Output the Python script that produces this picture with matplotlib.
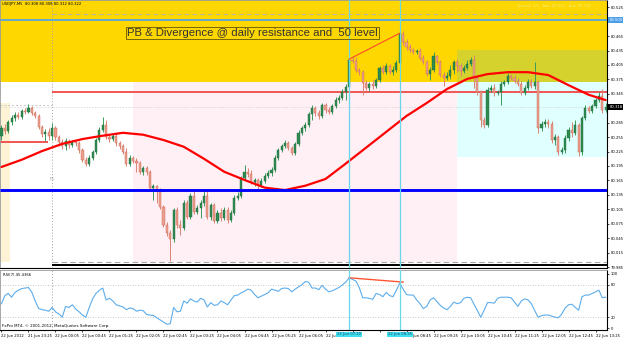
import numpy as np
import matplotlib
matplotlib.use("Agg")
import matplotlib.pyplot as plt
from matplotlib.patches import Rectangle

# ---------------- data (USDJPY M5) ----------------
opens = [80.258, 80.274, 80.268, 80.287, 80.295, 80.301, 80.297, 80.309, 80.307, 80.316,
         80.305, 80.299, 80.276, 80.262, 80.266, 80.258, 80.274, 80.255, 80.245, 80.237,
         80.247, 80.239, 80.245, 80.243, 80.228, 80.208, 80.199, 80.212, 80.224, 80.249,
         80.270, 80.280, 80.255, 80.251, 80.258, 80.243, 80.237, 80.224, 80.199, 80.212,
         80.206, 80.201, 80.183, 80.191, 80.183, 80.150, 80.154, 80.145, 80.110, 80.073,
         80.056, 80.044, 80.104, 80.073, 80.066, 80.118, 80.089, 80.133, 80.100, 80.108,
         80.118, 80.133, 80.089, 80.114, 80.081, 80.098, 80.087, 80.104, 80.083, 80.098,
         80.129, 80.133, 80.170, 80.183, 80.179, 80.162, 80.166, 80.156, 80.164, 80.174,
         80.181, 80.187, 80.212, 80.228, 80.237, 80.243, 80.233, 80.222, 80.241, 80.264,
         80.274, 80.280, 80.303, 80.316, 80.305, 80.299, 80.322, 80.312, 80.307, 80.320,
         80.332, 80.336, 80.349, 80.359, 80.415, 80.413, 80.395, 80.390, 80.368, 80.357,
         80.366, 80.361, 80.374, 80.399, 80.390, 80.403, 80.390, 80.395, 80.409, 80.469,
         80.453, 80.442, 80.436, 80.432, 80.434, 80.420, 80.411, 80.386, 80.395, 80.424,
         80.411, 80.384, 80.378, 80.382, 80.395, 80.411, 80.403, 80.393, 80.399, 80.407,
         80.415, 80.378, 80.349, 80.291, 80.280, 80.353, 80.357, 80.347, 80.349, 80.366,
         80.370, 80.382, 80.378, 80.372, 80.366, 80.347, 80.357, 80.370, 80.361, 80.370,
         80.274, 80.282, 80.287, 80.282, 80.249, 80.255, 80.224, 80.228, 80.253, 80.270,
         80.264, 80.280, 80.224, 80.295, 80.316, 80.309, 80.320, 80.332, 80.341, 80.312]
highs = [80.280, 80.282, 80.291, 80.301, 80.307, 80.307, 80.314, 80.316, 80.324, 80.320,
         80.309, 80.303, 80.280, 80.272, 80.274, 80.285, 80.278, 80.260, 80.251, 80.253,
         80.251, 80.249, 80.249, 80.247, 80.233, 80.214, 80.218, 80.228, 80.253, 80.276,
         80.297, 80.291, 80.262, 80.264, 80.262, 80.247, 80.241, 80.233, 80.218, 80.216,
         80.212, 80.206, 80.195, 80.195, 80.187, 80.158, 80.156, 80.150, 80.114, 80.079,
         80.062, 80.108, 80.110, 80.083, 80.125, 80.125, 80.139, 80.145, 80.114, 80.125,
         80.145, 80.145, 80.118, 80.118, 80.104, 80.108, 80.110, 80.110, 80.104, 80.135,
         80.141, 80.174, 80.197, 80.191, 80.187, 80.170, 80.170, 80.170, 80.181, 80.187,
         80.193, 80.218, 80.233, 80.241, 80.249, 80.247, 80.237, 80.245, 80.270, 80.278,
         80.287, 80.307, 80.322, 80.320, 80.312, 80.326, 80.326, 80.318, 80.324, 80.339,
         80.343, 80.355, 80.366, 80.420, 80.422, 80.422, 80.399, 80.395, 80.374, 80.370,
         80.374, 80.378, 80.403, 80.405, 80.409, 80.407, 80.403, 80.415, 80.513, 80.476,
         80.459, 80.449, 80.440, 80.438, 80.440, 80.426, 80.415, 80.401, 80.432, 80.426,
         80.415, 80.390, 80.390, 80.405, 80.415, 80.417, 80.409, 80.405, 80.415, 80.422,
         80.426, 80.382, 80.353, 80.297, 80.359, 80.363, 80.366, 80.353, 80.372, 80.374,
         80.388, 80.386, 80.384, 80.378, 80.372, 80.363, 80.376, 80.376, 80.411, 80.374,
         80.289, 80.293, 80.293, 80.289, 80.262, 80.260, 80.235, 80.260, 80.276, 80.287,
         80.291, 80.285, 80.299, 80.322, 80.320, 80.324, 80.336, 80.349, 80.355, 80.326]
lows = [80.249, 80.262, 80.264, 80.280, 80.289, 80.293, 80.293, 80.303, 80.305, 80.301,
        80.295, 80.272, 80.255, 80.247, 80.249, 80.249, 80.249, 80.237, 80.231, 80.228,
        80.233, 80.235, 80.237, 80.222, 80.204, 80.195, 80.195, 80.208, 80.220, 80.245,
        80.266, 80.251, 80.245, 80.247, 80.237, 80.231, 80.220, 80.195, 80.195, 80.201,
        80.183, 80.179, 80.177, 80.177, 80.145, 80.125, 80.118, 80.106, 80.069, 80.050,
        79.998, 80.037, 80.066, 80.052, 80.062, 80.085, 80.085, 80.096, 80.096, 80.087,
        80.112, 80.085, 80.083, 80.077, 80.077, 80.081, 80.083, 80.077, 80.079, 80.093,
        80.125, 80.129, 80.166, 80.172, 80.158, 80.154, 80.145, 80.152, 80.160, 80.170,
        80.174, 80.183, 80.208, 80.224, 80.233, 80.228, 80.218, 80.218, 80.237, 80.260,
        80.268, 80.276, 80.291, 80.299, 80.293, 80.295, 80.305, 80.303, 80.303, 80.316,
        80.326, 80.332, 80.332, 80.355, 80.409, 80.390, 80.384, 80.343, 80.353, 80.351,
        80.355, 80.357, 80.370, 80.386, 80.386, 80.386, 80.384, 80.390, 80.405, 80.447,
        80.436, 80.432, 80.428, 80.428, 80.415, 80.407, 80.382, 80.374, 80.390, 80.407,
        80.380, 80.361, 80.374, 80.376, 80.386, 80.390, 80.382, 80.388, 80.395, 80.403,
        80.357, 80.343, 80.276, 80.274, 80.276, 80.349, 80.341, 80.343, 80.322, 80.361,
        80.366, 80.374, 80.368, 80.361, 80.343, 80.343, 80.353, 80.357, 80.355, 80.264,
        80.268, 80.276, 80.274, 80.243, 80.239, 80.218, 80.220, 80.222, 80.247, 80.255,
        80.260, 80.216, 80.218, 80.291, 80.305, 80.305, 80.316, 80.328, 80.305, 80.307]
closes = [80.274, 80.268, 80.287, 80.295, 80.301, 80.297, 80.309, 80.307, 80.316, 80.305,
          80.299, 80.276, 80.262, 80.266, 80.258, 80.274, 80.255, 80.245, 80.237, 80.247,
          80.239, 80.245, 80.243, 80.228, 80.208, 80.199, 80.212, 80.224, 80.249, 80.270,
          80.280, 80.255, 80.251, 80.258, 80.243, 80.237, 80.224, 80.199, 80.212, 80.206,
          80.201, 80.183, 80.191, 80.183, 80.150, 80.154, 80.145, 80.110, 80.073, 80.056,
          80.044, 80.104, 80.073, 80.066, 80.118, 80.089, 80.133, 80.100, 80.108, 80.118,
          80.133, 80.089, 80.114, 80.081, 80.098, 80.087, 80.104, 80.083, 80.098, 80.129,
          80.133, 80.170, 80.183, 80.179, 80.162, 80.166, 80.156, 80.164, 80.174, 80.181,
          80.187, 80.212, 80.228, 80.237, 80.243, 80.233, 80.222, 80.241, 80.264, 80.274,
          80.280, 80.303, 80.316, 80.305, 80.299, 80.322, 80.312, 80.307, 80.320, 80.332,
          80.336, 80.349, 80.359, 80.415, 80.413, 80.395, 80.390, 80.368, 80.357, 80.366,
          80.361, 80.374, 80.399, 80.390, 80.403, 80.390, 80.395, 80.409, 80.469, 80.453,
          80.442, 80.436, 80.432, 80.434, 80.420, 80.411, 80.386, 80.395, 80.424, 80.411,
          80.384, 80.378, 80.382, 80.395, 80.411, 80.403, 80.393, 80.399, 80.407, 80.415,
          80.378, 80.349, 80.291, 80.280, 80.353, 80.357, 80.347, 80.349, 80.366, 80.370,
          80.382, 80.378, 80.372, 80.366, 80.347, 80.357, 80.370, 80.361, 80.370, 80.274,
          80.282, 80.287, 80.282, 80.249, 80.255, 80.224, 80.228, 80.253, 80.270, 80.264,
          80.280, 80.224, 80.295, 80.316, 80.309, 80.320, 80.332, 80.341, 80.312, 80.318]

ma_bars = [0, 6, 12, 18, 24, 30, 36, 42, 48, 54, 60, 66, 72, 78, 84, 90, 96, 102,
           108, 114, 120, 126, 132, 138, 144, 150, 156, 162, 168, 174, 179]
ma_values = [80.193, 80.208, 80.226, 80.241, 80.251, 80.258, 80.264, 80.260, 80.249,
             80.235, 80.210, 80.183, 80.166, 80.150, 80.145, 80.154, 80.168, 80.200,
             80.233, 80.266, 80.299, 80.326, 80.355, 80.376, 80.386, 80.390, 80.390,
             80.384, 80.363, 80.343, 80.332]

rsi_values = [45, 60, 64, 57, 66, 70, 73, 74, 75, 66,
              50, 36, 34, 33, 31, 38, 30, 26, 20, 40,
              38, 43, 35, 30, 24, 20, 38, 54, 64, 70,
              74, 52, 55, 50, 43, 41, 39, 34, 37, 36,
              31, 33, 32, 25, 24, 23, 19, 15, 11, 7,
              8, 38, 30, 31, 50, 46, 54, 50, 48, 55,
              52, 39, 47, 42, 43, 50, 47, 43, 52, 60,
              61, 65, 68, 72, 70, 62, 56, 59, 62, 65,
              72, 70, 68, 73, 74, 73, 67, 72, 76, 80,
              86, 85, 74, 74, 71, 79, 72, 67, 69, 72,
              75, 80, 85, 93, 90, 87, 75, 56, 56, 55,
              53, 64, 62, 58, 66, 60, 58, 70, 83, 72,
              62, 61, 61, 52, 45, 36, 40, 52, 56, 49,
              42, 37, 34, 40, 48, 45, 47, 55, 57, 56,
              44, 32, 20, 33, 47, 47, 46, 55, 57, 57,
              57, 56, 48, 40, 50, 54, 52, 45, 32, 20,
              23, 24, 24, 22, 20, 19, 26, 37, 43, 44,
              38, 33, 58, 61, 61, 64, 67, 70, 56, 57]

time_tick_bars = [0, 8, 16, 24, 32, 40, 48, 56, 64, 72, 80, 88, 96, 104, 112,
                  120, 128, 136, 144, 152, 160, 168, 176]
time_tick_labels = ["22 Jun 2012", "21 Jun 23:25", "22 Jun 00:05", "22 Jun 00:45",
                    "22 Jun 01:25", "22 Jun 02:05", "22 Jun 02:45", "22 Jun 03:25",
                    "22 Jun 04:05", "22 Jun 04:45", "22 Jun 05:25", "22 Jun 06:05",
                    "22 Jun 06:45", "", "", "22 Jun 08:45",
                    "22 Jun 09:25", "22 Jun 10:05", "22 Jun 10:45", "22 Jun 11:25",
                    "22 Jun 12:05", "22 Jun 12:45", "22 Jun 13:25"]
price_ticks = [79.985, 80.015, 80.045, 80.075, 80.105, 80.135, 80.165, 80.195, 80.225,
               80.255, 80.285, 80.315, 80.345, 80.375, 80.405, 80.435, 80.465, 80.495,
               80.525]
hidden_price_ticks = [80.315, 80.495]
rsi_ticks = [0, 20, 80, 100]
rsi_levels = [20, 80]

vline_bars = [103, 118]
vline_labels = ["22 Jun 07:20", "22 Jun 08:35"]
price_trend = ([103, 118], [80.417, 80.471])
rsi_trend = ([103, 119], [93, 85])

day_start_bar = 14.85
gold_zone_low = 80.370
olive_zone = (134.95, 80.370, 80.436)
cyan_zone = (134.95, 80.214, 80.370)
pink_zone = (38.95, 134.95, 79.996, 80.370)
beige_zone = (2.5, 79.996, 80.326)
level_blue_top = 80.498
level_gray_top = 80.511
level_red = 80.349
level_red_prev = 80.245
level_gray_prev = 80.322
level_gray_bottom = 79.996
level_black_bottom = 79.990
level_blue = 80.145

title_text = "PB & Divergence @ daily resistance and  50 level"

# ---------------- figure ----------------
W, H = 625, 338
fig = plt.figure(figsize=(W / 100, H / 100), dpi=100)
fig.patch.set_facecolor("white")

ax = fig.add_axes([0, 1 - 268 / H, 607 / W, 268 / H])
axr = fig.add_axes([0, 1 - 330 / H, 607 / W, 60 / H])

XL = (-0.44, 179.4)
ax.set_xlim(*XL)
ax.set_ylim(79.983, 80.540)
axr.set_xlim(*XL)
axr.set_ylim(-3.7, 107.4)
ax.set_facecolor("white")
axr.set_facecolor("white")

SM = 2.7  # small font size

# zones
ax.add_patch(Rectangle((XL[0], gold_zone_low), XL[1] - XL[0], 1.0, fc="#FFD700", ec="none", zorder=0.5))
ax.add_patch(Rectangle((olive_zone[0], olive_zone[1]), XL[1] - olive_zone[0], olive_zone[2] - olive_zone[1],
                       fc="#D5D22E", ec="none", zorder=0.6))
ax.add_patch(Rectangle((cyan_zone[0], cyan_zone[1]), XL[1] - cyan_zone[0], cyan_zone[2] - cyan_zone[1],
                       fc="#E0FFFF", ec="none", zorder=0.5))
ax.add_patch(Rectangle((pink_zone[0], pink_zone[2]), pink_zone[1] - pink_zone[0], pink_zone[3] - pink_zone[2],
                       fc="#FFF0F5", ec="none", zorder=0.5))
ax.add_patch(Rectangle((XL[0], beige_zone[1]), beige_zone[0] - XL[0], beige_zone[2] - beige_zone[1],
                       fc="#FFF3D6", ec="none", zorder=0.5))

# horizontal levels
ax.hlines(level_blue_top, XL[0], XL[1], color="#55A5E0", lw=1.3, zorder=2)
ax.hlines(level_gray_top, day_start_bar, XL[1], color="#B8B8A0", lw=0.8, linestyles=(0, (4, 3)), zorder=2)
ax.hlines(level_red, day_start_bar, XL[1], color="#F04848", lw=1.3, zorder=2)
ax.hlines(level_red_prev, XL[0], 13.8, color="#F04848", lw=1.3, zorder=2)
ax.hlines(level_gray_prev, XL[0], day_start_bar, color="#C8C8C8", lw=0.7, linestyles=(0, (2, 2)), zorder=2)
ax.hlines(level_gray_bottom, day_start_bar, XL[1], color="#A8A8A8", lw=0.8, linestyles=(0, (5, 3)), zorder=2)
ax.hlines(level_black_bottom, day_start_bar, XL[1], color="black", lw=1.4, zorder=2)
ax.hlines(closes[-1], XL[0], XL[1], color="#D0D0D0", lw=0.5, linestyles=(0, (2, 2)), zorder=1)

# day separator and vertical lines
for a in (ax, axr):
    a.axvline(day_start_bar, color="#A0A0A0", lw=0.7, ls=(0, (1, 2)), zorder=1)
    for vb in vline_bars:
        a.axvline(vb, color="#66D8EA", lw=0.9, zorder=6)

# candles
k = np.arange(len(closes))
o = np.array(opens); c = np.array(closes); h = np.array(highs); l = np.array(lows)
up = c >= o
bull_c, bull_e = "#2E8B50", "#1F6B3B"
bear_c, bear_e = "#EDA08E", "#C86452"
ax.vlines(k[up], l[up], h[up], color="#3A9A5C", lw=0.7, zorder=3)
ax.vlines(k[~up], l[~up], h[~up], color="#D98474", lw=0.7, zorder=3)
lo = np.minimum(o, c)
hh = np.maximum(np.abs(c - o), 0.0012)
ax.bar(k[up], hh[up], bottom=lo[up], width=0.62, color=bull_c, edgecolor=bull_e, lw=0.3, zorder=4)
ax.bar(k[~up], hh[~up], bottom=lo[~up], width=0.62, color=bear_c, edgecolor=bear_e, lw=0.3, zorder=4)

# moving average and blue level
ax.plot(ma_bars, ma_values, color="#FF0000", lw=1.6, zorder=5, solid_capstyle="round")
ax.hlines(level_blue, XL[0], XL[1], color="#0000FF", lw=2.1, zorder=5)

# trendline on price
ax.plot(price_trend[0], price_trend[1], color="#FF4A2A", lw=0.8, zorder=6)

# title box
ax.text(37.3, 80.471, title_text, fontsize=8.2, family="Liberation Sans", color="#333333",
        va="center", ha="left", zorder=7,
        bbox=dict(boxstyle="square,pad=0.1", fc="none", ec="#7A6800", lw=0.7))

ax.text(14.2, 80.166, "F1", fontsize=3.2, color="#9A9A9A", zorder=7)

# RSI
axr.plot(k, rsi_values, color="#5DADEC", lw=0.8, zorder=4)
for lv in rsi_levels:
    axr.axhline(lv, color="#B8B8B8", lw=0.6, ls=(0, (1, 2)), zorder=1)
axr.plot(rsi_trend[0], rsi_trend[1], color="#FF5533", lw=1.0, zorder=5)

# axes styling
for a in (ax, axr):
    for s in ("top", "left"):
        a.spines[s].set_color("#9A9A9A")
        a.spines[s].set_linewidth(0.6)
    for s in ("right", "bottom"):
        a.spines[s].set_color("black")
        a.spines[s].set_linewidth(0.8)
    a.yaxis.tick_right()
    a.tick_params(axis="y", length=1.5, width=0.5, labelsize=SM, pad=1.0, colors="black")

ax.set_xticks([])
ax.set_yticks(price_ticks)
ax.set_yticklabels(["" if t in hidden_price_ticks else f"{t:.3f}" for t in price_ticks])
axr.set_yticks(rsi_ticks)
axr.set_yticklabels([str(t) for t in rsi_ticks])
axr.set_xticks(time_tick_bars)
axr.set_xticklabels(time_tick_labels, ha="left")
axr.tick_params(axis="x", length=1.5, width=0.5, labelsize=SM, pad=1.2)

# highlighted axis labels
ytr = ax.get_yaxis_transform()
ax.text(1.004, level_blue_top, "80.500", transform=ytr, fontsize=SM, color="white", va="center",
        ha="left", zorder=10, bbox=dict(boxstyle="square,pad=0.25", fc="#4A9FE8", ec="none"))
ax.text(1.004, closes[-1], f"{closes[-1]:.3f}", transform=ytr, fontsize=SM, color="white",
        va="center", ha="left", zorder=10, bbox=dict(boxstyle="square,pad=0.25", fc="black", ec="none"))
xtr = axr.get_xaxis_transform()
for vb, lab in zip(vline_bars, vline_labels):
    axr.text(vb, -0.075, lab, transform=xtr, fontsize=SM, color="#224466", va="center", ha="center",
             zorder=10, bbox=dict(boxstyle="square,pad=0.25", fc="#3FE0F0", ec="none"))

# info texts
def ptxt(x, y, s, **kw):
    fig.text(x / W, 1 - y / H, s, **kw)

ptxt(2, 4.5, "USDJPY,M5  80.308 80.308 80.312 80.322", fontsize=SM, color="black", va="center")
ptxt(517, 6, "Spread: 3.0   Ask: 80.321   Bid: 80.318", fontsize=SM, color="#F7EB80", va="center")
ptxt(3, 275.5, "RSI(7) 45.4366", fontsize=SM, color="black", va="center")
ptxt(2, 326, "FxPro MT4, \u00a9 2001-2012, MetaQuotes Software Corp.", fontsize=2.9, color="black",
     va="center")

fig.savefig("out.png", dpi=100, facecolor="white")
